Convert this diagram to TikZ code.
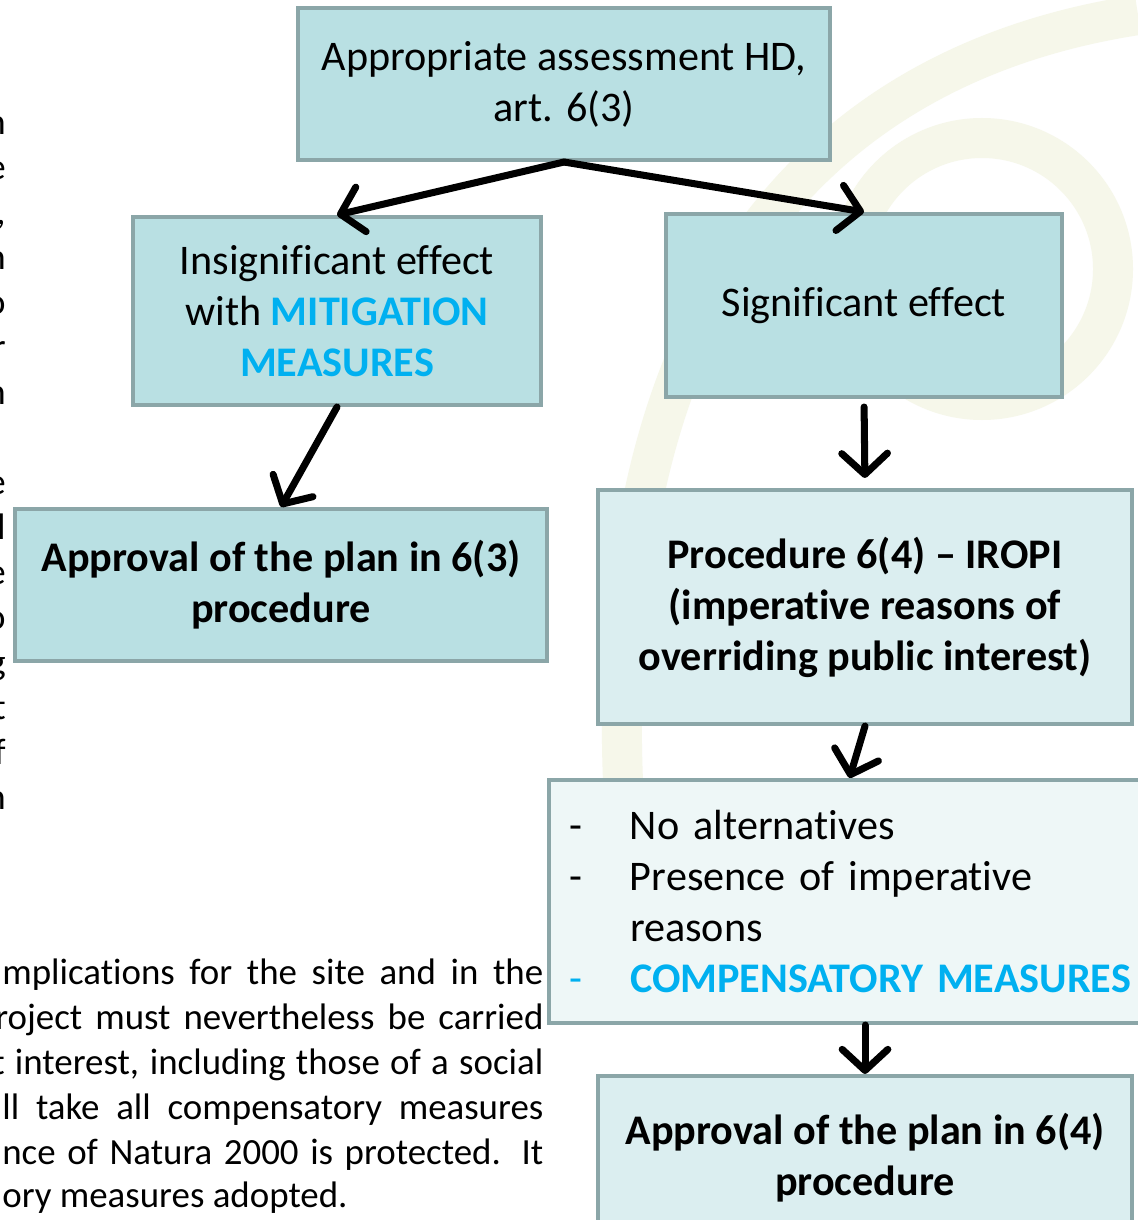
\documentclass[tikz,border=0pt]{standalone}
\usepackage{fontspec}
\setmainfont{Carlito}[Ligatures=NoCommon]
\usepackage{xcolor}
\usepackage{tikz}
\usetikzlibrary{arrows.meta, positioning, calc}
\definecolor{boxcolor}{RGB}{185, 224, 227}
\definecolor{procedurecolor}{RGB}{219, 238, 240}
\definecolor{listcolor}{RGB}{238, 247, 247}
\definecolor{edgecolor}{RGB}{139, 166, 168}
\definecolor{measurecolor}{RGB}{0, 176, 240}
\definecolor{logocolor}{RGB}{246, 247, 234}
\tikzstyle{effect} = [rectangle, draw=edgecolor, line width=2.3pt, fill=boxcolor, align=center, inner sep=0pt, font=\fontsize{24}{29}\selectfont]
\tikzstyle{approval} = [effect, font=\fontsize{24}{29}\selectfont\bfseries]
\tikzstyle{procedure} = [approval, fill=procedurecolor]
\tikzstyle{conditions} = [rectangle, draw=edgecolor, line width=2.3pt, fill=listcolor, align=left, text width=11.22cm, inner xsep=0.4cm, inner ysep=0pt, font=\fontsize{24}{29}\selectfont]
\tikzstyle{textline} = [inner sep=0pt, anchor=base west, font=\fontsize{21}{25}\selectfont]
\tikzstyle{arrow} = [line width=4pt, line cap=round, -{Straight Barb[length=12pt, width=26pt, round]}]

\begin{document}
\begin{tikzpicture}

\useasboundingbox (0,0) rectangle (22.76,-24.4);
\fill[white] (0,0) rectangle (22.76,-24.4);

% Logo
\draw[logocolor, line width=0.8cm] (12.5,-16.4) .. controls (11.9,-7.0) and (15.6,-1.4) .. (22.76,-0.3);
\draw[logocolor, line width=0.8cm] (19.64,-5.38) circle (2.62cm);

% Texte coupe
\foreach \y/\c in {125/n, 170/e, 215/{,}, 260/n, 305/o, 350/r, 395/n, 485/e, 530/l, 575/e, 620/o, 665/g, 710/t, 755/f, 800/n}
  \node (frag\y) [inner sep=0pt, anchor=base east, font=\fontsize{21}{25}\selectfont] at ({0.12}, {-(\y+9)*0.02}) {\c};

\node (line1) [textline] at (0.04,-19.68) {\makebox[10.82cm][s]{mplications for the site and in the}};
\node (line2) [textline] at (-0.1,-20.58) {\makebox[10.96cm][s]{roject must nevertheless be carried}};
\node (line3) [textline] at (-0.16,-21.48) {\makebox[11.02cm][s]{t interest, including those of a social}};
\node (line4) [textline] at (0.04,-22.38) {\makebox[10.82cm][s]{ll take all compensatory measures}};
\node (line5) [textline] at (0.04,-23.28) {\makebox[10.82cm][s]{nce of Natura 2000 is protected. It}};
\node (line6) [textline] at (0.04,-24.14) {ory measures adopted.};

% Boites
\node (assessment) [effect, minimum width=10.64cm, minimum height=3.04cm] at (11.28,-1.68) {Appropriate assessment HD,\\art. 6(3)};
\node (insignificant) [effect, minimum width=8.16cm, minimum height=3.76cm] at (6.74,-6.22) {Insignificant effect\\with \textcolor{measurecolor}{\textbf{MITIGATION}}\\\textcolor{measurecolor}{\textbf{MEASURES}}};
\node (significant) [effect, minimum width=7.92cm, minimum height=3.66cm] at (17.28,-6.11) {Significant effect};
\node (approval63) [approval, minimum width=10.64cm, minimum height=3.04cm] at (5.62,-11.70) {Approval of the plan in 6(3)\\procedure};
\node (iropi) [procedure, minimum width=10.68cm, minimum height=4.68cm] at (17.30,-12.14) {Procedure 6(4) -- IROPI\\(imperative reasons of\\overriding public interest)};
\node (checks) [conditions, minimum height=4.86cm] at (16.99,-18.03) {\makebox[1.22cm][l]{-}No alternatives\\\makebox[1.22cm][l]{-}Presence of imperative\\\hspace*{1.22cm}reasons\\\mbox{\textcolor{measurecolor}{\makebox[1.22cm][l]{-}\textbf{COMPENSATORY MEASURES}}}};
\node (approval64) [procedure, minimum width=10.68cm, minimum height=3.28cm] at (17.30,-23.16) {Approval of the plan in 6(4)\\procedure};

% Fleches
\draw [arrow] (assessment.south) -- (insignificant.north);
\draw [arrow] (assessment.south) -- (significant.north);
\draw [arrow] (insignificant.south) -- (approval63.north);
\draw [arrow, shorten <=0.16cm, shorten >=0.2cm] (significant.south) -- (iropi.north);
\draw [arrow] (iropi.south) -- (checks.north);
\draw [arrow] (checks.south -| approval64.north) -- (approval64.north);

\end{tikzpicture}
\end{document}
